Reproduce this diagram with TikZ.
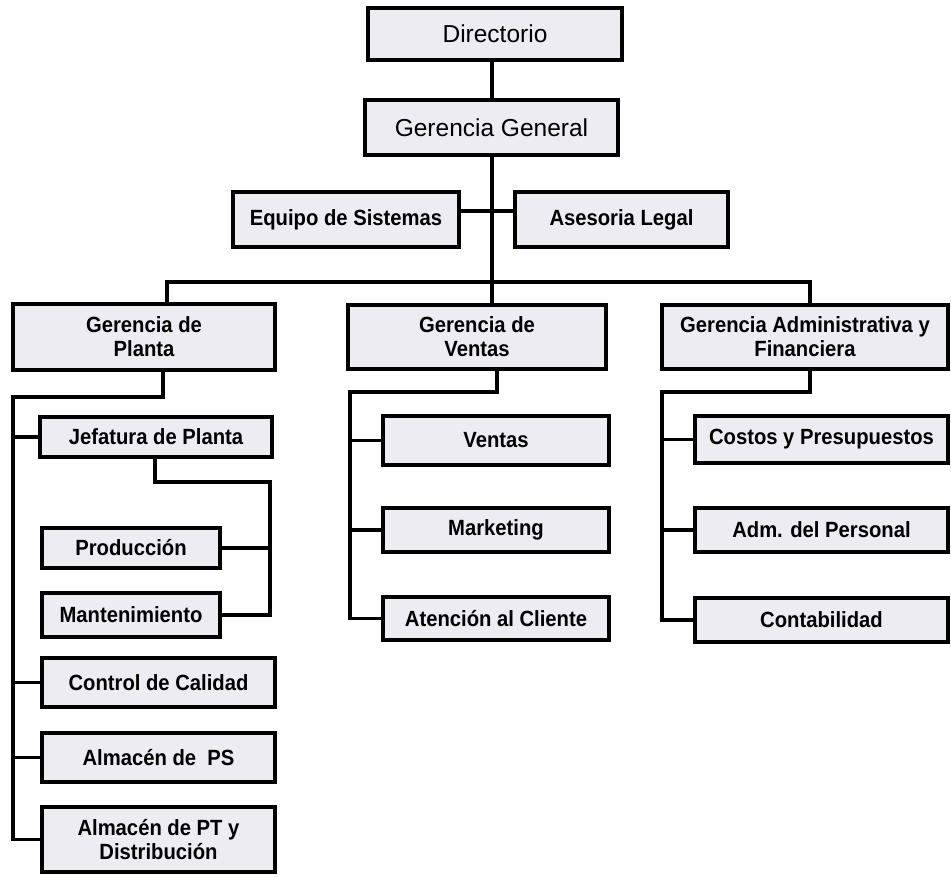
\documentclass[tikz,border=0pt]{standalone}
\usepackage{fontspec}
\setmainfont{Liberation Sans}
\newfontfamily\lowf{Liberation Sans}[FakeStretch=0.92]
\definecolor{boxfill}{HTML}{EDECF3}
\begin{document}
\begin{tikzpicture}[x=1pt,y=-1pt,
  box/.style={draw=black, fill=boxfill, line width=3.4pt, inner sep=0pt, outer sep=0pt,
    align=center, font=\lowf\bfseries\fontsize{22}{24}\selectfont},
  topbox/.style={box, font=\fontsize{24.5}{28}\selectfont},
  conn/.style={draw=black, line width=3.6pt, line cap=rect}]
\useasboundingbox (0,0) rectangle (951,877);
% top
\node[topbox, minimum width=254pt, minimum height=52pt] (dir) at (495,34) {Directorio};
\node[topbox, minimum width=253pt, minimum height=55pt] (gg) at (491.5,127.5) {Gerencia General};
\node[box, minimum width=226pt, minimum height=55pt] (eq) at (346,219.5) {Equipo de Sistemas};
\node[box, minimum width=213pt, minimum height=55pt] (as) at (621.5,219.5) {Asesoria Legal};
% gerencias
\node[box, minimum width=262pt, minimum height=66pt] (gp) at (144,337) {Gerencia de\\Planta};
\node[box, minimum width=258pt, minimum height=64pt] (gv) at (477,337) {Gerencia de\\Ventas};
\node[box, minimum width=286pt, minimum height=64pt] (ga) at (805,337) {Gerencia Administrativa y\\Financiera};
% planta
\node[box, minimum width=232pt, minimum height=40pt] (jef) at (156,437) {Jefatura de Planta};
\node[box, minimum width=178pt, minimum height=40pt] (prod) at (131,548) {Producción};
\node[box, minimum width=178pt, minimum height=44pt] (mant) at (131,615) {Mantenimiento};
\node[box, minimum width=233pt, minimum height=49pt] (cc) at (158.5,682.5) {Control de Calidad};
\node[box, minimum width=233pt, minimum height=49pt] (aps) at (158.5,757.5) {Almacén de\ \ PS};
\node[box, minimum width=233pt, minimum height=65pt] (apt) at (158.5,839.5) {Almacén de PT y\\Distribución};
% ventas
\node[box, minimum width=226pt, minimum height=49pt] (ven) at (496,440.5) {Ventas};
\node[box, minimum width=226pt, minimum height=44pt] (mkt) at (496,530) {Marketing};
\node[box, minimum width=226pt, minimum height=43pt] (ate) at (496,618.5) {Atención al Cliente};
% adm
\node[box, minimum width=253pt, minimum height=47pt] (cos) at (821.5,439.5) {Costos y Presupuestos};
\node[box, minimum width=253pt, minimum height=44pt] (adm) at (821.5,530) {Adm. del Personal};
\node[box, minimum width=253pt, minimum height=44pt] (con) at (821.5,620) {Contabilidad};
% helper coordinates
\coordinate (sp) at (492,0);
\coordinate (ly) at (0,211);
\coordinate (bl) at (167,282);
\coordinate (br) at (810,282);
\coordinate (pd) at (163,397);
\coordinate (pl) at (13,397);
\coordinate (jd) at (155,482);
\coordinate (jr) at (270,482);
\coordinate (vd) at (497,392);
\coordinate (vl) at (350,392);
\coordinate (ad) at (810,392);
\coordinate (al) at (662,392);
% connectors
\path[conn] (dir.south -| sp) -- (gg.north -| sp);
\path[conn] (gg.south -| sp) -- (gv.north -| sp);
\path[conn] (eq.east |- ly) -- (as.west |- ly);
\path[conn] (gp.north -| bl) -- (bl) -- (br) -- (ga.north -| br);
% planta
\path[conn] (gp.south -| pd) -- (pd) -- (pl) -- (pl |- apt.west) -- (apt.west);
\path[conn] (pl |- jef.west) -- (jef.west);
\path[conn] (pl |- cc.west) -- (cc.west);
\path[conn] (pl |- aps.west) -- (aps.west);
\path[conn] (jef.south -| jd) -- (jd) -- (jr) -- (jr |- mant.east) -- (mant.east);
\path[conn] (prod.east) -- (jr |- prod.east);
% ventas
\path[conn] (gv.south -| vd) -- (vd) -- (vl) -- (vl |- ate.west) -- (ate.west);
\path[conn] (vl |- ven.west) -- (ven.west);
\path[conn] (vl |- mkt.west) -- (mkt.west);
% adm
\path[conn] (ga.south -| ad) -- (ad) -- (al) -- (al |- con.west) -- (con.west);
\path[conn] (al |- cos.west) -- (cos.west);
\path[conn] (al |- adm.west) -- (adm.west);
\end{tikzpicture}
\end{document}
